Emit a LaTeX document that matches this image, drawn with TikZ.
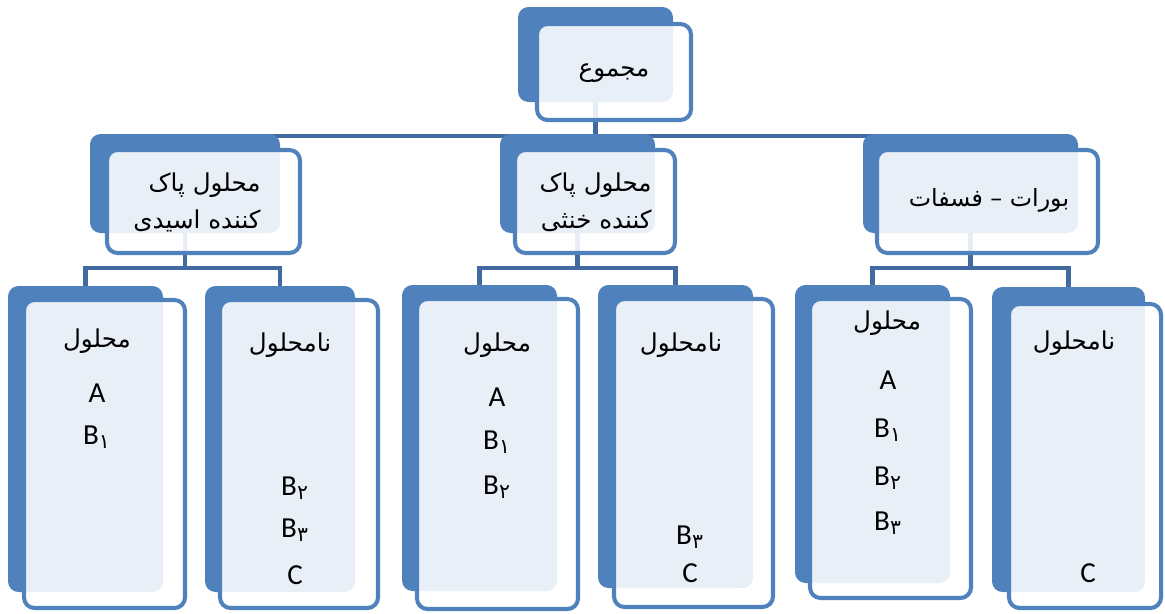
\documentclass[tikz,border=0pt]{standalone}
\usepackage{fontspec}
\setmainfont{Carlito}
\newfontfamily\farsi[Script=Arabic]{DejaVu Sans}
\TeXXeTstate=1
\usetikzlibrary{backgrounds}
\definecolor{smartblue}{RGB}{79,129,189}
\definecolor{linkblue}{RGB}{66,106,160}
\newcommand{\px}{0.02cm}

\begin{document}
\begin{tikzpicture}[x=0.02cm, y=-0.02cm,
    shadebox/.style={rectangle, rounded corners=6pt, fill=smartblue, inner sep=0pt},
    framebox/.style={rectangle, rounded corners=6pt, draw=smartblue, line width=2.3pt, fill=white, fill opacity=0.88, inner sep=0pt},
    conn/.style={draw=linkblue, line width=2.3pt},
    fatext/.style={font=\fontsize{14}{21}\selectfont\farsi, inner sep=0pt},
    latext/.style={font=\fontsize{16.5}{21}\selectfont, inner sep=0pt}]
    \useasboundingbox (0,0) rectangle (1165,613);

    % Top box
    \node[shadebox, minimum width=155*\px, minimum height=95*\px] (rootS) at (595.5,54.5) {};
    \node[framebox, minimum width=154*\px, minimum height=96*\px] (root) at (614,72) {};
    \node[fatext] (rootT) at (614,73) {\beginR مجموع\endR};

    % Middle row
    \node[shadebox, minimum width=190*\px, minimum height=99*\px] (acidS) at (185,183.5) {};
    \node[framebox, minimum width=193*\px, minimum height=103*\px] (acid) at (203.5,201.5) {};
    \node[fatext, anchor=east, align=right] (acidT) at (261,202) {\beginR محلول پاک\endR\\\beginR کننده اسیدی\endR};

    \node[shadebox, minimum width=155*\px, minimum height=99*\px] (neutS) at (577.5,183.5) {};
    \node[framebox, minimum width=160*\px, minimum height=103*\px] (neut) at (595,201.5) {};
    \node[fatext, anchor=east, align=right] (neutT) at (652,202) {\beginR محلول پاک\endR\\\beginR کننده خنثی\endR};

    \node[shadebox, minimum width=215*\px, minimum height=99*\px] (borS) at (970.5,183.5) {};
    \node[framebox, minimum width=221*\px, minimum height=103*\px] (bor) at (987.5,201.5) {};
    \node[fatext, font=\fontsize{13.5}{21}\selectfont\farsi] (borT) at (989,200) {\beginR بورات – فسفات\endR};

    % Bottom row
    \node[shadebox, minimum width=155*\px, minimum height=306*\px] (acidSolS) at (85.5,439) {};
    \node[framebox, minimum width=161*\px, minimum height=308*\px] (acidSol) at (104.5,454) {};
    \node[shadebox, minimum width=150*\px, minimum height=306*\px] (acidInsS) at (280,439) {};
    \node[framebox, minimum width=158*\px, minimum height=308*\px] (acidIns) at (299,454) {};
    \node[shadebox, minimum width=155*\px, minimum height=306*\px] (neutSolS) at (479.5,438) {};
    \node[framebox, minimum width=161*\px, minimum height=310*\px] (neutSol) at (497.5,454) {};
    \node[shadebox, minimum width=155*\px, minimum height=303*\px] (neutInsS) at (675.5,436.5) {};
    \node[framebox, minimum width=159*\px, minimum height=308*\px] (neutIns) at (693.5,453) {};
    \node[shadebox, minimum width=155*\px, minimum height=298*\px] (borSolS) at (872.5,434) {};
    \node[framebox, minimum width=161*\px, minimum height=299*\px] (borSol) at (890.5,448.5) {};
    \node[shadebox, minimum width=153*\px, minimum height=305*\px] (borInsS) at (1068.5,439.5) {};
    \node[framebox, minimum width=152*\px, minimum height=304*\px] (borIns) at (1085,456) {};

    % Bottom texts
    \node[fatext] (acidSolT) at (97,341) {\beginR محلول\endR};
    \node[latext] (acidSolA) at (97,393) {A};
    \node[latext] (acidSolB) at (97,437) {B\textsubscript{\farsi ۱}};

    \node[fatext] (acidInsT) at (290,345) {\beginR نامحلول\endR};
    \node[latext] (acidInsB) at (295,488) {B\textsubscript{\farsi ۲}};
    \node[latext] (acidInsC) at (295,530) {B\textsubscript{\farsi ۳}};
    \node[latext] (acidInsD) at (295,575) {C};

    \node[fatext] (neutSolT) at (497,345) {\beginR محلول\endR};
    \node[latext] (neutSolA) at (497,397) {A};
    \node[latext] (neutSolB) at (497,442) {B\textsubscript{\farsi ۱}};
    \node[latext] (neutSolC) at (497,487) {B\textsubscript{\farsi ۲}};

    \node[fatext] (neutInsT) at (681,345) {\beginR نامحلول\endR};
    \node[latext] (neutInsB) at (690,537) {B\textsubscript{\farsi ۳}};
    \node[latext] (neutInsC) at (690,573) {C};

    \node[fatext] (borSolT) at (887,323) {\beginR محلول\endR};
    \node[latext] (borSolA) at (888,380) {A};
    \node[latext] (borSolB) at (888,430) {B\textsubscript{\farsi ۱}};
    \node[latext] (borSolC) at (888,478) {B\textsubscript{\farsi ۲}};
    \node[latext] (borSolD) at (888,523) {B\textsubscript{\farsi ۳}};

    \node[fatext] (borInsT) at (1074,343) {\beginR نامحلول\endR};
    \node[latext] (borInsC) at (1088,573) {C};

    % Connectors
    \coordinate (busTop) at (0,136);
    \coordinate (busLow) at (0,268);
    \begin{pgfonlayer}{background}
        \draw[conn] (rootS.center) -- (rootS.center |- busTop);
        \draw[conn] (acidS.center |- busTop) -- (borS.center |- busTop);
        \draw[conn] (acidS.center) -- (acidS.center |- busLow);
        \draw[conn] (acidSolS.center) |- (acidInsS.center |- busLow) -- (acidInsS.center);
        \draw[conn] (neutS.center) -- (neutS.center |- busLow);
        \draw[conn] (neutSolS.center) |- (neutInsS.center |- busLow) -- (neutInsS.center);
        \draw[conn] (borS.center) -- (borS.center |- busLow);
        \draw[conn] (borSolS.center) |- (borInsS.center |- busLow) -- (borInsS.center);
    \end{pgfonlayer}
\end{tikzpicture}
\end{document}
